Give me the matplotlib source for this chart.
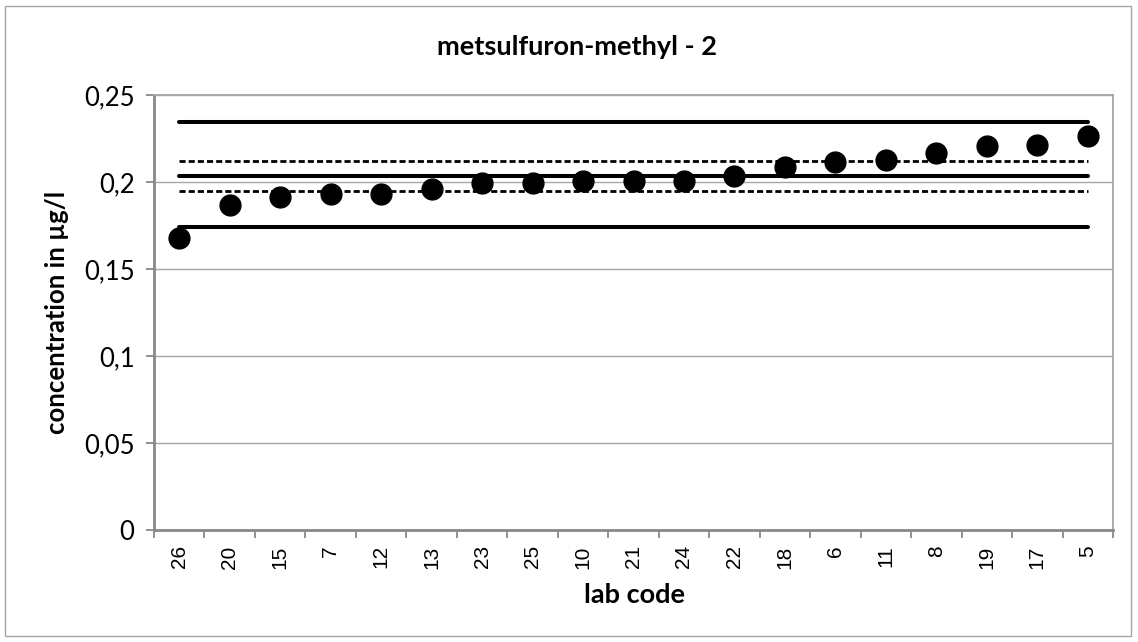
import numpy as np
import matplotlib
matplotlib.use("Agg")
import matplotlib.pyplot as plt
from matplotlib.patches import Rectangle
from matplotlib.ticker import FuncFormatter

# data
lab_codes = ["26", "20", "15", "7", "12", "13", "23", "25", "10", "21",
             "24", "22", "18", "6", "11", "8", "19", "17", "5"]
concentrations = [0.1678, 0.1869, 0.1917, 0.1931, 0.1931, 0.1961, 0.1998, 0.1998, 0.2008, 0.2008,
                  0.2008, 0.2038, 0.2090, 0.2118, 0.2128, 0.2167, 0.2209, 0.2213, 0.2268]
assigned_value = 0.2036
upper_limit = 0.2349
lower_limit = 0.1745
upper_uncert = 0.2123
lower_uncert = 0.1950

title = "metsulfuron-methyl - 2"
xlabel = "lab code"
ylabel = "concentration in µg/l"

W, H = 1138, 642
fig = plt.figure(figsize=(W / 100, H / 100), dpi=100)
ax = fig.add_axes([154 / W, 1 - 530 / H, (1113 - 154) / W, (530 - 95.4) / H])

x = np.arange(len(lab_codes))
n = len(lab_codes)

ax.plot(x, np.full(n, upper_limit), color="black", lw=2.9, solid_capstyle="round", zorder=3)
ax.plot(x, np.full(n, assigned_value), color="black", lw=2.9, solid_capstyle="round", zorder=3)
ax.plot(x, np.full(n, lower_limit), color="black", lw=2.9, solid_capstyle="round", zorder=3)
ax.plot(x, np.full(n, upper_uncert), color="black", lw=2.0, dashes=(2.2, 1.1), zorder=3)
ax.plot(x, np.full(n, lower_uncert), color="black", lw=2.0, dashes=(2.2, 1.1), zorder=3)
ax.plot(x, concentrations, "o", color="black", ms=15, zorder=4)

ax.set_xlim(-0.5, n - 0.5)
ax.set_ylim(0, 0.25)
ax.set_yticks(np.arange(0, 0.2501, 0.05))
ax.yaxis.set_major_formatter(FuncFormatter(lambda v, p: ("%g" % round(v, 2)).replace(".", ",")))
ax.grid(axis="y", color="#a6a6a6", lw=1.0)
ax.set_axisbelow(True)

ax.set_xticks(x)
ax.set_xticklabels(lab_codes, rotation=90, fontsize=15, family="Liberation Sans")
ax.set_xticks(np.arange(-0.5, n, 1), minor=True)
ax.tick_params(axis="x", which="major", length=0, pad=11)
ax.tick_params(axis="x", which="minor", length=6, width=1.3, color="#888888")
ax.tick_params(axis="y", length=6, width=1.3, color="#888888", labelsize=18.5, pad=8)
for lbl in ax.get_yticklabels():
    lbl.set_family("Lato")

for side in ["left", "bottom"]:
    ax.spines[side].set_color("#888888")
    ax.spines[side].set_linewidth(2.0)
for side in ["top", "right"]:
    ax.spines[side].set_color("#a6a6a6")
    ax.spines[side].set_linewidth(1.3)

fig.text(577 / W, 1 - 47 / H, title, ha="center", va="center",
         fontsize=19.5, fontweight="bold", family="Lato")
fig.text(634 / W, 1 - 595 / H, xlabel, ha="center", va="center",
         fontsize=19.5, fontweight="bold", family="Lato")
fig.text(57 / W, 1 - 312 / H, ylabel, ha="center", va="center", rotation=90,
         fontsize=18.5, fontweight="bold", family="Lato")

# outer chart border
fig.patches.append(Rectangle((5 / W, 1 - 636 / H), 1126 / W, 630 / H, transform=fig.transFigure,
                             fill=False, edgecolor="#a6a6a6", lw=1.0))

fig.savefig("out.png", dpi=100)
